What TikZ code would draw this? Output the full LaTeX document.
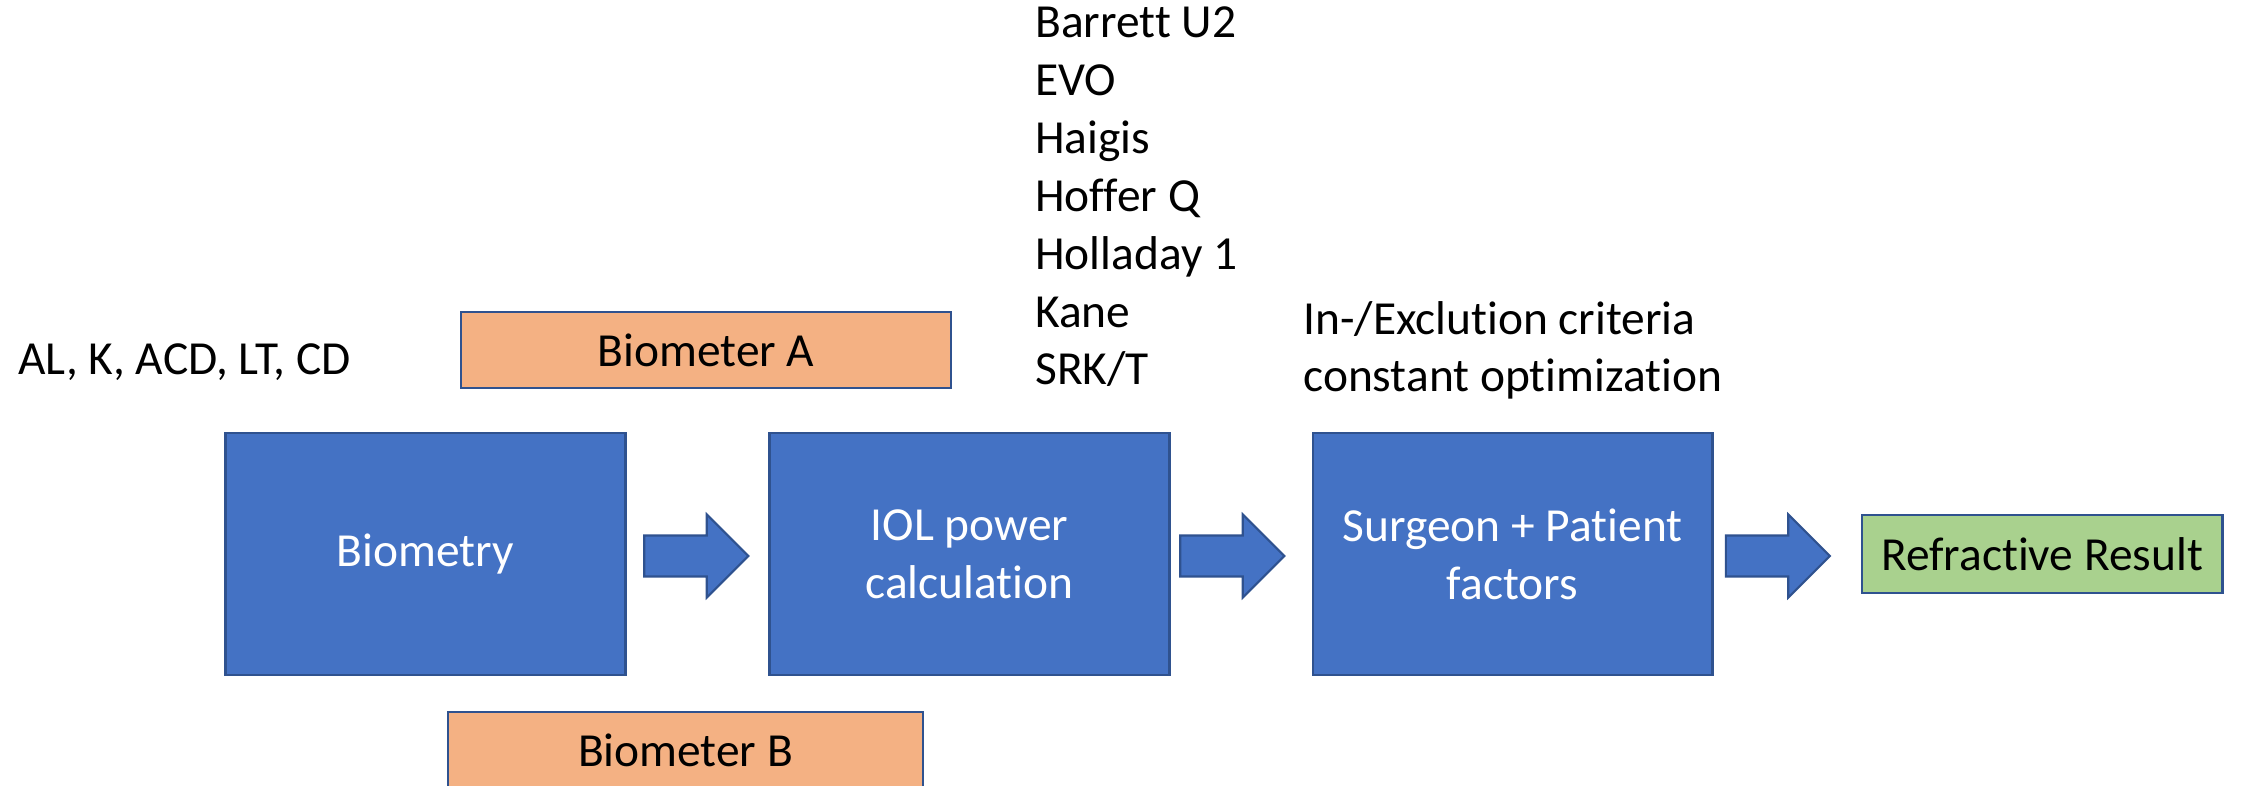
\documentclass[tikz,border=0pt]{standalone}
\usepackage{fontspec}
\setmainfont[Ligatures={NoCommon}]{Carlito}
\usetikzlibrary{positioning, shapes.arrows}
\definecolor{boxblue}{HTML}{4472C4}
\definecolor{edgeblue}{HTML}{2F528F}
\definecolor{meterorange}{HTML}{F4B183}
\definecolor{resultgreen}{HTML}{A9D18E}

\begin{document}
\begin{tikzpicture}[
      x = 0.02cm, y = -0.02cm,
      font = \fontsize{27}{33}\selectfont,
      stage/.style={
        draw = edgeblue,
        line width = 1.2pt,
        fill = boxblue,
        text = white,
        minimum width = 8cm,
        minimum height = 4.84cm,
        align = center,
      },
      meter/.style={
        draw = edgeblue,
        line width = 1.2pt,
        fill = meterorange,
        minimum height = 1.52cm,
      },
      flow/.style={
        single arrow,
        draw = edgeblue,
        line width = 1.2pt,
        fill = boxblue,
        inner xsep = 0pt,
        inner ysep = 0.39cm,
        minimum height = 2.08cm,
        single arrow head extend = 0.42cm,
        single arrow tip angle = 90,
      },
      note/.style={anchor = base west, align = left, inner sep = 0pt},
    ]
    \useasboundingbox (0,0) rectangle (2247,786);
    \node[stage] (bio) at (425.5,554) {Biometry};
    \node[stage, right = 2.84cm of bio] (iol) {IOL power\\calculation};
    \node[stage, right = 2.82cm of iol] (surg) {Surgeon + Patient\\factors};
    \node[draw = edgeblue, line width = 1.2pt, fill = resultgreen,
      minimum width = 7.22cm, minimum height = 1.56cm,
      right = 2.94cm of surg] (res) {Refractive Result};
    \node[meter, minimum width = 9.8cm] (bma) at (706,350) {Biometer A};
    \node[meter, minimum width = 9.5cm] (bmb) at (685.5,750) {Biometer B};
    \node[flow] (f1) at (686,556) {};
    \node[flow] (f2) at (1222,556) {};
    \node[flow] (f3) at (1767.5,556) {};
    \node[note] (params) at (18,375) {AL, K, ACD, LT, CD};
    % base anchor sits on the last line
    \node[note] (formulas) at (1035,385)
      {Barrett U2\\EVO\\Haigis\\Hoffer Q\\Holladay 1\\Kane\\SRK/T};
    \node[note] (crit) at (1303,392) {In-/Exclution criteria\\constant optimization};
  \end{tikzpicture}
\end{document}
